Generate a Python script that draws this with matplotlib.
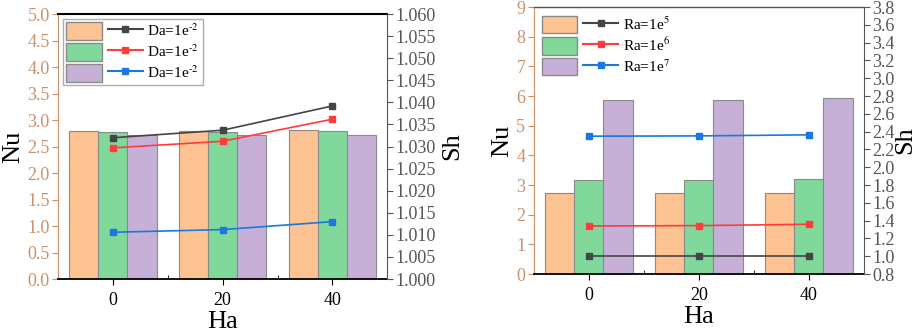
import matplotlib
matplotlib.use("Agg")
import matplotlib.pyplot as plt
import numpy as np
from matplotlib.patches import Patch
from matplotlib.lines import Line2D
from matplotlib.legend_handler import HandlerTuple
from matplotlib.ticker import MultipleLocator, FormatStrFormatter

plt.rcParams['font.family'] = ['Liberation Serif', 'DejaVu Serif']
plt.rcParams['mathtext.fontset'] = 'stix'

# ---- data ----
ha_labels = ['0', '20', '40']

# left panel
left_series = [r'Da=1e$^{\text{-}2}$', r'Da=1e$^{\text{-}2}$', r'Da=1e$^{\text{-}2}$']
left_nu = [
    [2.80, 2.80, 2.81],
    [2.78, 2.78, 2.80],
    [2.72, 2.72, 2.72],
]
left_sh = [
    [1.0320, 1.0337, 1.0392],
    [1.0297, 1.0312, 1.0362],
    [1.0106, 1.0112, 1.0130],
]

# right panel
right_series = ['Ra=1e$^{5}$', 'Ra=1e$^{6}$', 'Ra=1e$^{7}$']
right_nu = [
    [2.72, 2.72, 2.72],
    [3.17, 3.17, 3.21],
    [5.85, 5.87, 5.92],
]
right_sh = [
    [1.006, 1.006, 1.006],
    [1.340, 1.344, 1.359],
    [2.349, 2.352, 2.364],
]

bar_colors = ['#fdc393', '#80d99b', '#c6b0d8']
line_colors = ['#454545', '#ff3b3b', '#1a78e0']
tan = '#c8916a'
grey = '#555555'

fig = plt.figure(figsize=(9.2, 3.35), dpi=100)


def panel(rect, nu, sh, labels, nu_lim, nu_step, nu_fmt, sh_lim, sh_step, sh_fmt, top_color, legend_frame, sh_pad):
    ax = fig.add_axes(rect)
    x = np.arange(len(ha_labels))
    w = 0.266
    for i in range(3):
        ax.bar(x + (i - 1) * w, nu[i], width=w, color=bar_colors[i],
               edgecolor='#8a8a8a', linewidth=0.8, zorder=2)
    ax.set_xlim(-0.5, 2.5)
    ax.set_ylim(*nu_lim)
    ax.yaxis.set_major_locator(MultipleLocator(nu_step))
    ax.yaxis.set_major_formatter(FormatStrFormatter(nu_fmt))
    ax.set_xticks(x)
    ax.set_xticklabels(ha_labels)
    ax.set_xticks([0.5, 1.5], minor=True)
    ax.tick_params(axis='x', which='major', direction='out', length=4, labelsize=13, pad=5)
    ax.tick_params(axis='x', which='minor', direction='in', length=3)
    ax.tick_params(axis='y', direction='out', length=4, colors=tan, labelsize=13, labelcolor=tan, pad=2)
    ax.spines['left'].set_color(tan)
    ax.spines['top'].set_color(top_color)
    ax.spines['top'].set_linewidth(1.5 if top_color == 'black' else 1.0)
    ax.spines['bottom'].set_linewidth(1.3)
    ax.spines['right'].set_visible(False)
    ax.set_xlabel('Ha', fontsize=19, labelpad=2)
    ax.set_ylabel('Nu', fontsize=19, labelpad=2)

    ax2 = ax.twinx()
    for i in range(3):
        ax2.plot(x, sh[i], color=line_colors[i], marker='s', markersize=4.5, linewidth=1.2, zorder=3)
    ax2.set_ylim(*sh_lim)
    ax2.yaxis.set_major_locator(MultipleLocator(sh_step))
    ax2.yaxis.set_major_formatter(FormatStrFormatter(sh_fmt))
    ax2.tick_params(axis='y', direction='out', length=4, colors=grey, labelsize=13, labelcolor=grey, pad=2)
    ax2.spines['right'].set_color(grey)
    ax2.spines['left'].set_visible(False)
    ax2.spines['top'].set_visible(False)
    ax2.spines['bottom'].set_visible(False)
    ax2.set_ylabel('Sh', fontsize=19, labelpad=sh_pad)

    handles = [(Patch(facecolor=bar_colors[i], edgecolor='#8a8a8a'),
                Line2D([], [], color=line_colors[i], marker='s', markersize=4))
               for i in range(3)]
    leg = ax2.legend(handles, labels, handler_map={tuple: HandlerTuple(ndivide=None, pad=0.4)},
                     loc='upper left', fontsize=11, handlelength=5.0, handleheight=1.4,
                     borderaxespad=0.3, labelspacing=0.2, handletextpad=0.3,
                     frameon=legend_frame, fancybox=False, borderpad=0.25)
    if legend_frame:
        leg.get_frame().set_edgecolor('#999999')
        leg.get_frame().set_linewidth(1.0)
    return ax, ax2


panel([0.063, 0.167, 0.358, 0.791], left_nu, left_sh, left_series,
      (0, 5.0), 0.5, '%.1f', (1.000, 1.060), 0.005, '%.3f', 'black', True, 4)
panel([0.580, 0.182, 0.359, 0.797], right_nu, right_sh, right_series,
      (0, 9), 1, '%d', (0.8, 3.8), 0.2, '%.1f', grey, False, 0)

fig.savefig('out.png', dpi=100)
